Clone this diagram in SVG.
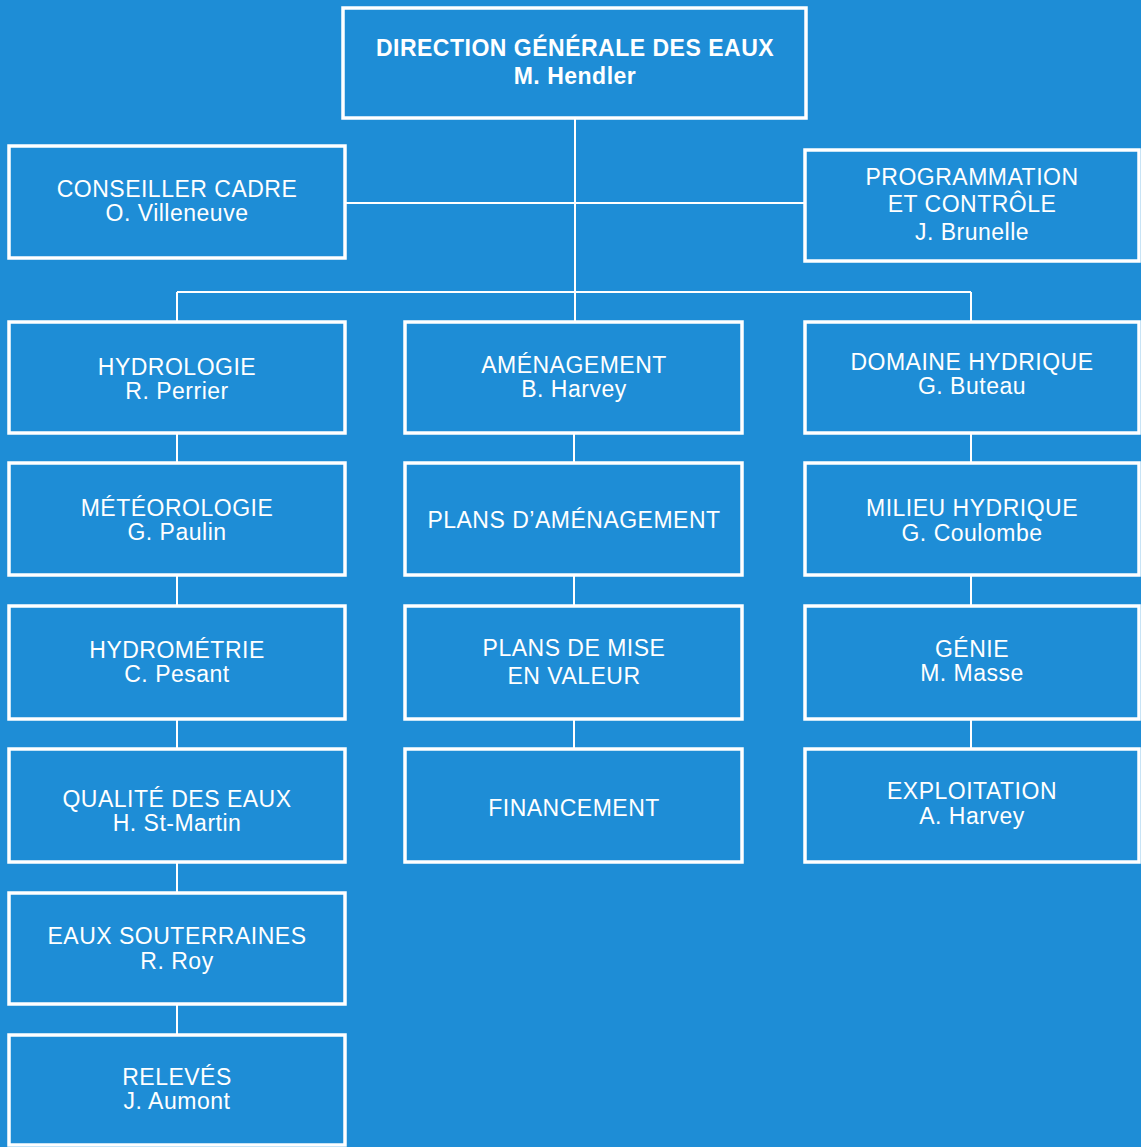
<svg xmlns="http://www.w3.org/2000/svg" width="1141" height="1147" viewBox="0 0 1141 1147">
<style>
.bg{fill:#1e8dd6}
.box{fill:none;stroke:#ffffff;stroke-width:3.5}
.ln{fill:none;stroke:#ffffff;stroke-width:2}
text{font-family:"Liberation Sans",Arial,Helvetica,sans-serif;font-size:23px;fill:#ffffff;text-anchor:middle;letter-spacing:0.5px}
.b{font-weight:bold}
</style>
<rect class="bg" x="0" y="0" width="1141" height="1147"/>
<g id="connectors">
<line class="ln" x1="575" y1="118" x2="575" y2="322"/>
<line class="ln" x1="345" y1="203" x2="805" y2="203"/>
<line class="ln" x1="177" y1="292" x2="971" y2="292"/>
<line class="ln" x1="177" y1="292" x2="177" y2="322"/>
<line class="ln" x1="971" y1="292" x2="971" y2="322"/>
<line class="ln" x1="177" y1="433" x2="177" y2="463"/>
<line class="ln" x1="177" y1="575" x2="177" y2="606"/>
<line class="ln" x1="177" y1="719" x2="177" y2="749"/>
<line class="ln" x1="177" y1="862" x2="177" y2="893"/>
<line class="ln" x1="177" y1="1004" x2="177" y2="1035"/>
<line class="ln" x1="574" y1="433" x2="574" y2="463"/>
<line class="ln" x1="574" y1="575" x2="574" y2="606"/>
<line class="ln" x1="574" y1="719" x2="574" y2="749"/>
<line class="ln" x1="971" y1="433" x2="971" y2="463"/>
<line class="ln" x1="971" y1="575" x2="971" y2="606"/>
<line class="ln" x1="971" y1="719" x2="971" y2="749"/>
</g>
<g id="n-direction"><rect class="box" x="343" y="8" width="463" height="110"/><text class="b" x="575" y="56">DIRECTION GÉNÉRALE DES EAUX</text><text class="b" x="575" y="84">M. Hendler</text></g>
<g id="n-conseiller"><rect class="box" x="9" y="146" width="336" height="112"/><text x="177" y="197">CONSEILLER CADRE</text><text x="177" y="221">O. Villeneuve</text></g>
<g id="n-programmation"><rect class="box" x="805" y="150" width="334" height="111"/><text x="972" y="185">PROGRAMMATION</text><text x="972" y="212">ET CONTRÔLE</text><text x="972" y="240">J. Brunelle</text></g>
<g id="n-hydrologie"><rect class="box" x="9" y="322" width="336" height="111"/><text x="177" y="375">HYDROLOGIE</text><text x="177" y="399">R. Perrier</text></g>
<g id="n-meteorologie"><rect class="box" x="9" y="463" width="336" height="112"/><text x="177" y="516">MÉTÉOROLOGIE</text><text x="177" y="540">G. Paulin</text></g>
<g id="n-hydrometrie"><rect class="box" x="9" y="606" width="336" height="113"/><text x="177" y="658">HYDROMÉTRIE</text><text x="177" y="682">C. Pesant</text></g>
<g id="n-qualite"><rect class="box" x="9" y="749" width="336" height="113"/><text x="177" y="807">QUALITÉ DES EAUX</text><text x="177" y="831">H. St-Martin</text></g>
<g id="n-souterraines"><rect class="box" x="9" y="893" width="336" height="111"/><text x="177" y="944">EAUX SOUTERRAINES</text><text x="177" y="969">R. Roy</text></g>
<g id="n-releves"><rect class="box" x="9" y="1035" width="336" height="110"/><text x="177" y="1085">RELEVÉS</text><text x="177" y="1109">J. Aumont</text></g>
<g id="n-amenagement"><rect class="box" x="405" y="322" width="337" height="111"/><text x="574" y="373">AMÉNAGEMENT</text><text x="574" y="397">B. Harvey</text></g>
<g id="n-plans-amenagement"><rect class="box" x="405" y="463" width="337" height="112"/><text x="574" y="528">PLANS D’AMÉNAGEMENT</text></g>
<g id="n-plans-mise"><rect class="box" x="405" y="606" width="337" height="113"/><text x="574" y="656">PLANS DE MISE</text><text x="574" y="684">EN VALEUR</text></g>
<g id="n-financement"><rect class="box" x="405" y="749" width="337" height="113"/><text x="574" y="816">FINANCEMENT</text></g>
<g id="n-domaine"><rect class="box" x="805" y="322" width="334" height="111"/><text x="972" y="370">DOMAINE HYDRIQUE</text><text x="972" y="394">G. Buteau</text></g>
<g id="n-milieu"><rect class="box" x="805" y="463" width="334" height="112"/><text x="972" y="516">MILIEU HYDRIQUE</text><text x="972" y="541">G. Coulombe</text></g>
<g id="n-genie"><rect class="box" x="805" y="606" width="334" height="113"/><text x="972" y="657">GÉNIE</text><text x="972" y="681">M. Masse</text></g>
<g id="n-exploitation"><rect class="box" x="805" y="749" width="334" height="113"/><text x="972" y="799">EXPLOITATION</text><text x="972" y="824">A. Harvey</text></g>
</svg>
